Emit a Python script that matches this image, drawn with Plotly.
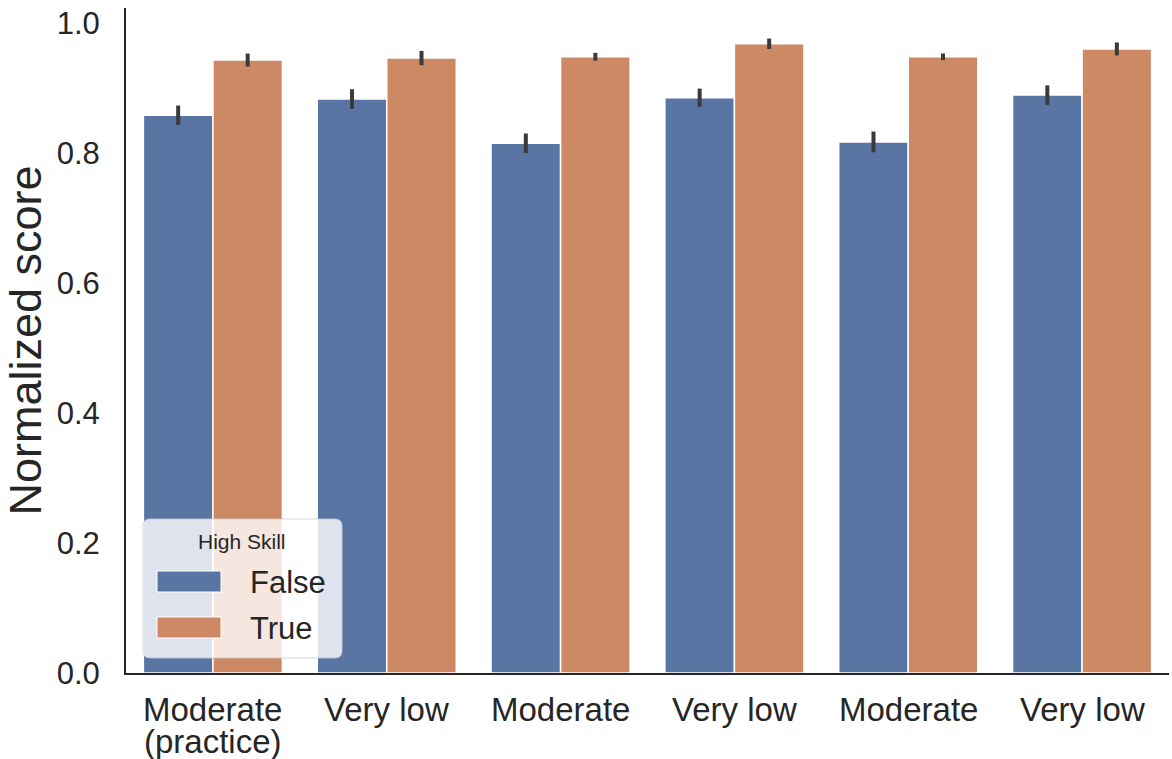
import plotly.graph_objects as go

# Difficulty condition for each group of bars (newline = second label line)
categories = ["Moderate\n(practice)", "Very low", "Moderate", "Very low", "Moderate", "Very low"]

# Mean normalized score and 95% CI half-width, split by skill group
false_mean = [0.858, 0.883, 0.815, 0.885, 0.817, 0.889]
false_err = [0.015, 0.015, 0.015, 0.014, 0.016, 0.015]
true_mean = [0.943, 0.946, 0.948, 0.968, 0.948, 0.960]
true_err = [0.010, 0.011, 0.006, 0.008, 0.005, 0.010]

y_ticks = [0.0, 0.2, 0.4, 0.6, 0.8, 1.0]

BLUE = "#5975a4"
ORANGE = "#cc8963"
INK = "#262626"
ERR = "#3a3a3a"
FONT = "Liberation Sans, Arial, sans-serif"

W, H = 1172, 759
ML, MR, MT, MB = 126, 3, 8, 86
PW, PH = W - ML - MR, H - MT - MB

x_pos = list(range(len(categories)))

fig = go.Figure()
for name, mean, err, color in [("False", false_mean, false_err, BLUE),
                               ("True", true_mean, true_err, ORANGE)]:
    fig.add_trace(go.Bar(
        x=x_pos, y=mean, name=name,
        marker=dict(color=color, line=dict(color="white", width=1.5)),
        error_y=dict(type="data", array=err, visible=True,
                     color=ERR, thickness=4, width=0),
        showlegend=False,
    ))


def px_x(px):
    return (px - ML) / PW


def px_y(py):
    return (H - MB - py) / PH


def rounded_rect(x0, y0, x1, y1, r):
    # pixel box -> paper-space path with rounded corners
    rx, ry = r / PW, r / PH
    X0, X1 = px_x(x0), px_x(x1)
    Y0, Y1 = px_y(y0), px_y(y1)  # Y0 is the top edge
    return (f"M {X0+rx},{Y0} L {X1-rx},{Y0} Q {X1},{Y0} {X1},{Y0-ry} "
            f"L {X1},{Y1+ry} Q {X1},{Y1} {X1-rx},{Y1} "
            f"L {X0+rx},{Y1} Q {X0},{Y1} {X0},{Y1+ry} "
            f"L {X0},{Y0-ry} Q {X0},{Y0} {X0+rx},{Y0} Z")


annotations = []

# Category labels under the x axis, with tight line spacing
for xi, cat in zip(x_pos, categories):
    for li, line in enumerate(cat.split("\n")):
        annotations.append(dict(text=line, xref="x", yref="paper",
                                x=xi, y=0, yshift=-(36 + 32 * li),
                                showarrow=False, xanchor="center", yanchor="middle",
                                font=dict(family=FONT, size=33, color=INK)))

# Legend box
shapes = [dict(type="path", xref="paper", yref="paper", layer="above",
               path=rounded_rect(143, 519, 342, 658, 7),
               fillcolor="rgba(255,255,255,0.8)",
               line=dict(color="rgba(204,204,204,0.8)", width=1))]
annotations.append(dict(text="High Skill", xref="paper", yref="paper",
                        x=px_x(242), y=px_y(541), showarrow=False,
                        xanchor="center", yanchor="middle",
                        font=dict(family=FONT, size=21, color=INK)))
for label, color, top, bottom in [("False", BLUE, 571, 592), ("True", ORANGE, 617, 638)]:
    shapes.append(dict(type="rect", xref="paper", yref="paper", layer="above",
                       x0=px_x(157), x1=px_x(221), y0=px_y(bottom), y1=px_y(top),
                       fillcolor=color, line=dict(color="white", width=1)))
    annotations.append(dict(text=label, xref="paper", yref="paper",
                            x=px_x(248), y=px_y((top + bottom) / 2 + 1),
                            showarrow=False, xanchor="left", yanchor="middle",
                            font=dict(family=FONT, size=31, color=INK)))

fig.update_layout(
    width=W, height=H,
    margin=dict(l=ML, r=MR, t=MT, b=MB, pad=0, autoexpand=False),
    paper_bgcolor="white", plot_bgcolor="white",
    barmode="group", bargap=0.2, bargroupgap=0,
    font=dict(family=FONT, color=INK),
    shapes=shapes, annotations=annotations,
    xaxis=dict(range=[-0.5, 5.5], tickvals=x_pos, showticklabels=False,
               showline=True, linecolor=INK, linewidth=2, showgrid=False,
               zeroline=False, ticks="", automargin=False),
    yaxis=dict(range=[0, 1.023], tickvals=y_ticks,
               ticktext=[f"{v:.1f}" for v in y_ticks],
               showline=True, linecolor=INK, linewidth=2, showgrid=False,
               zeroline=False, ticks="", ticklabelstandoff=18, automargin=False,
               tickfont=dict(family=FONT, size=31, color=INK),
               title=dict(text="Normalized score", standoff=8,
                          font=dict(family=FONT, size=45, color=INK))),
)

fig.write_html("out.html")
